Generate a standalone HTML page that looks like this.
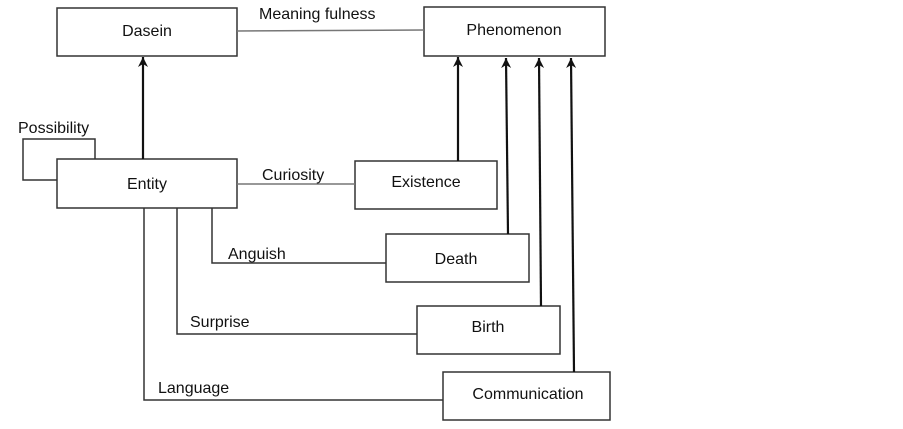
<!DOCTYPE html>
<html><head><style>
body{margin:0;background:#fff;}
svg text{font-family:"Liberation Sans",Arial,sans-serif;font-size:16px;fill:#111;}
</style></head><body>
<svg width="903" height="424" viewBox="0 0 903 424" xmlns="http://www.w3.org/2000/svg">
<defs><marker id="a" markerWidth="12" markerHeight="12" refX="10" refY="5" orient="auto" markerUnits="userSpaceOnUse"><path d="M0,0 L10,5 L0,10 L3,5 Z" fill="#111"/></marker></defs>
<g fill="#fff" stroke="#333" stroke-width="1.5">
<rect x="57" y="8" width="180" height="48"/>
<rect x="424" y="7" width="181" height="49"/>
<rect x="57" y="159" width="180" height="49"/>
<rect x="355" y="161" width="142" height="48"/>
<rect x="386" y="234" width="143" height="48"/>
<rect x="417" y="306" width="143" height="48"/>
<rect x="443" y="372" width="167" height="48"/>
</g>
<g fill="none" stroke="#333" stroke-width="1.5">
<line x1="237" y1="31" x2="424" y2="30" stroke="#777"/>
<polyline points="95,159 95,139 23,139 23,180 57,180"/>
<line x1="237" y1="184" x2="355" y2="184" stroke="#777"/>
<polyline points="212,208 212,263 386,263"/>
<polyline points="177,208 177,334 417,334"/>
<polyline points="144,208 144,400 443,400"/>
</g>
<g stroke="#111" stroke-width="2.2" fill="none">
<line x1="143" y1="159" x2="143" y2="57" marker-end="url(#a)"/>
<line x1="458" y1="161" x2="458" y2="57" marker-end="url(#a)"/>
<line x1="508" y1="234" x2="506" y2="58" marker-end="url(#a)"/>
<line x1="541" y1="306" x2="539" y2="58" marker-end="url(#a)"/>
<line x1="574" y1="372" x2="571" y2="58" marker-end="url(#a)"/>
</g>
<text x="147" y="36" text-anchor="middle">Dasein</text>
<text x="514" y="35" text-anchor="middle">Phenomenon</text>
<text x="147" y="189" text-anchor="middle">Entity</text>
<text x="426" y="187" text-anchor="middle">Existence</text>
<text x="456" y="264" text-anchor="middle">Death</text>
<text x="488" y="332" text-anchor="middle">Birth</text>
<text x="528" y="399" text-anchor="middle">Communication</text>
<text x="259" y="19">Meaning fulness</text>
<text x="18" y="133">Possibility</text>
<text x="262" y="180">Curiosity</text>
<text x="228" y="259">Anguish</text>
<text x="190" y="327">Surprise</text>
<text x="158" y="393">Language</text>
</svg>
</body></html>
